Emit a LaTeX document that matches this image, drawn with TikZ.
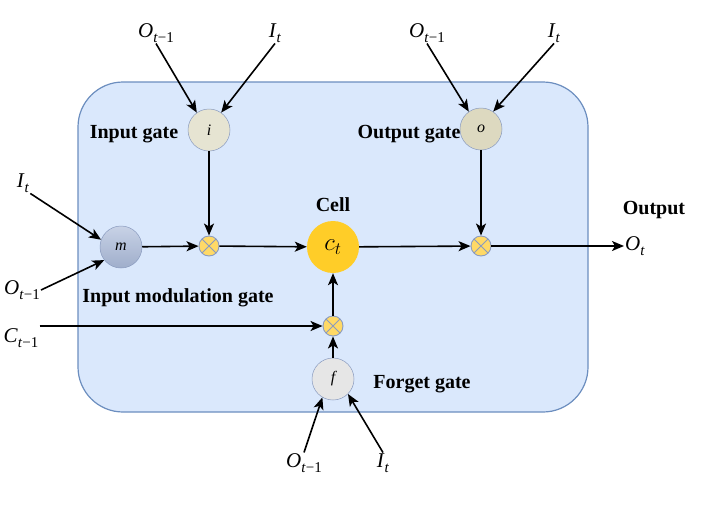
\documentclass[tikz,border=0pt]{standalone}
\usepackage{fontspec}
\setmainfont{Liberation Serif}
\usetikzlibrary{positioning, arrows.meta}
\definecolor{LSTMFill}{HTML}{DAE8FC}
\definecolor{LSTMDraw}{HTML}{6C8EBF}
\definecolor{InGate}{HTML}{E6E4D2}
\definecolor{OutGate}{HTML}{DDD9C0}
\definecolor{ModTop}{HTML}{C8D2E6}
\definecolor{ModBottom}{HTML}{9FAECB}
\definecolor{ForgetGate}{HTML}{E6E6E6}
\definecolor{CellYellow}{HTML}{FFCD28}
\definecolor{MultYellow}{HTML}{FFD966}
\definecolor{GateEdge}{HTML}{8A9BBF}
\newcommand{\vsub}[2]{\textit{#1}\raisebox{-0.22em}{\fontsize{15}{17}\selectfont #2}}

\begin{document}
\begin{tikzpicture}[
    x=1pt, y=-1pt,
    % Global Styles
    lstm/.style={
        rectangle,
        draw=LSTMDraw,
        line width=1.2pt,
        fill=LSTMFill,
        rounded corners=45pt,
        minimum width=510pt,
        minimum height=330pt
    },
    gate/.style={
        circle,
        draw=GateEdge,
        line width=0.5pt,
        minimum size=42pt,
        inner sep=0pt,
        font=\fontsize{16}{18}\selectfont\itshape
    },
    cellnode/.style={
        circle,
        fill=CellYellow,
        minimum size=52pt,
        inner sep=0pt,
        font=\fontsize{26}{30}\selectfont
    },
    mult/.style={
        circle,
        draw=GateEdge,
        line width=0.9pt,
        fill=MultYellow,
        minimum size=20pt,
        inner sep=0pt,
        path picture={
            \draw[GateEdge, line width=0.9pt]
                (path picture bounding box.north west) -- (path picture bounding box.south east)
                (path picture bounding box.north east) -- (path picture bounding box.south west);
        }
    },
    arrow/.style={
        -{Stealth[length=12pt,width=10pt,inset=3pt]},
        line width=1.6pt,
        draw=black
    },
    label_text/.style={
        font=\fontsize{20}{24}\selectfont\bfseries,
        inner sep=0pt
    },
    var_text/.style={
        font=\fontsize{21}{24}\selectfont,
        inner sep=1pt
    }
]
    \useasboundingbox (0,0) rectangle (714,512);

    % --- Cell body ---
    \node[lstm] (body) at (333,247) {};

    % --- Gates and cell state ---
    \node[gate, fill=InGate] (igate) at (209,130) {i};
    \node[gate, fill=OutGate] (ogate) at (481,129) {o};
    \node[gate, top color=ModTop, bottom color=ModBottom] (mgate) at (121,247) {m};
    \node[gate, fill=ForgetGate] (fgate) at (333,379) {f};
    \node[cellnode] (ct) at (333,247) {$c_t$};

    % multiplications
    \node[mult] (mul_i) at (209,246) {};
    \node[mult] (mul_o) at (481,246) {};
    \node[mult] (mul_f) at (333,326) {};

    % --- Labels ---
    \node[label_text] (in_label) at (134,134) {Input gate};
    \node[label_text] (out_label) at (409,134) {Output gate};
    \node[label_text, above=9pt of ct] (cell_label) {Cell};
    \node[label_text] (forget_label) at (422,384) {Forget gate};
    \node[label_text] (mod_label) at (178,298) {Input modulation gate};
    \node[label_text] (output_label) at (654,210) {Output};

    % --- Inputs ---
    \node[var_text] (o_in) at (156,33) {\vsub{O}{\textit{t}−1}};
    \node[var_text] (i_in) at (275,33) {\vsub{I}{\textit{t}}};
    \node[var_text] (o_out) at (427,33) {\vsub{O}{\textit{t}−1}};
    \node[var_text] (i_out) at (554,33) {\vsub{I}{\textit{t}}};
    \node[var_text] (i_mod) at (23,183) {\vsub{I}{\textit{t}}};
    \node[var_text] (o_mod) at (22,290) {\vsub{O}{\textit{t}−1}};
    \node[var_text] (c_prev) at (21,338) {\vsub{C}{\textit{t}−1}};
    \node[var_text] (o_f) at (304,463) {\vsub{O}{\textit{t}−1}};
    \node[var_text] (i_f) at (383,463) {\vsub{I}{\textit{t}}};
    \node[var_text, anchor=west] (o_t) at (624,246) {\vsub{O}{\textit{t}}};

    % --- Connections ---
    \draw[arrow] (o_in.south) -- (igate.125);
    \draw[arrow] (i_in.south) -- (igate.55);
    \draw[arrow] (o_out.south) -- (ogate.125);
    \draw[arrow] (i_out.south) -- (ogate.55);
    \draw[arrow] (i_mod.south east) -- (mgate.160);
    \draw[arrow] (o_mod.east) -- (mgate.218);
    \draw[arrow] (o_f.north) -- (fgate.240);
    \draw[arrow] (i_f.north) -- (fgate.315);

    \draw[arrow] (igate) -- (mul_i);
    \draw[arrow] (mgate) -- (mul_i);
    \draw[arrow] (mul_i) -- (ct);
    \draw[arrow] (ct) -- (mul_o);
    \draw[arrow] (ogate) -- (mul_o);
    \draw[arrow] (mul_o) -- (o_t.west);
    \draw[arrow] (c_prev.north east |- mul_f) -- (mul_f);
    \draw[arrow] (fgate) -- (mul_f);
    \draw[arrow] (mul_f) -- (ct);

\end{tikzpicture}
\end{document}
